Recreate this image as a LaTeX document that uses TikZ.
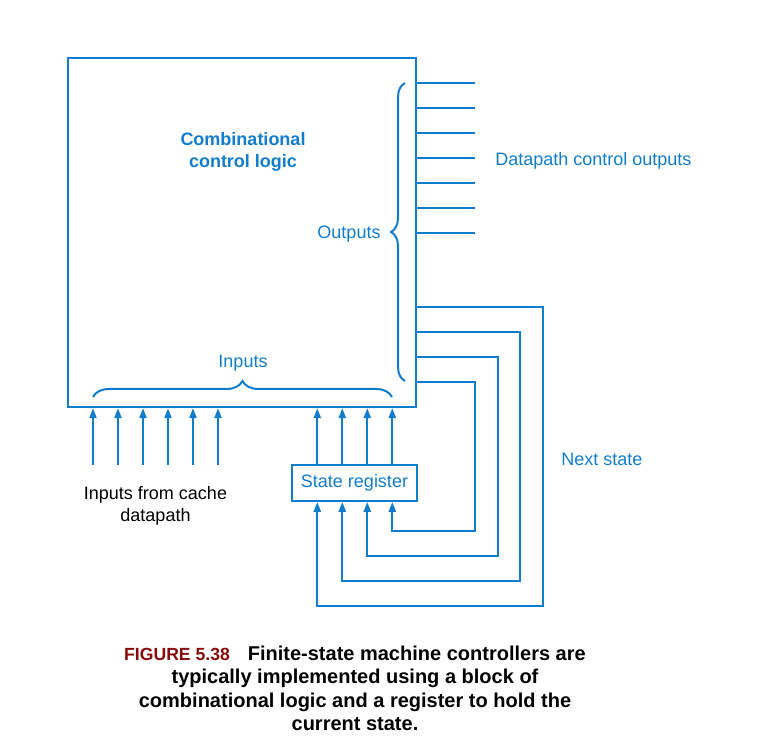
\documentclass[tikz,border=0pt]{standalone}
\usepackage{fontspec}
\setmainfont{Liberation Sans}
\usetikzlibrary{positioning, arrows.meta, decorations.pathreplacing, calc}
\definecolor{ctrlblue}{RGB}{18,125,204}
\definecolor{figred}{RGB}{135,12,12}

\begin{document}
\begin{tikzpicture}[x=0.5pt, y=-0.5pt,
    wire/.style={draw=ctrlblue, line width=1pt},
    arrow/.style={wire, -{Triangle[length=5pt, width=3.6pt]}},
    bracepath/.style={wire, decorate, decoration={brace, amplitude=#1}},
    lbl/.style={font=\fontsize{9}{11}\selectfont, text=ctrlblue, align=center, inner sep=0pt}
]
    \useasboundingbox (0,0) rectangle (757,737);

    % === BLOC LOGIQUE ===
    \node[wire, minimum width=174pt, minimum height=174.5pt, inner sep=0pt] (logic) at (242.3,232.7) {};
    \node[lbl, font=\fontsize{9}{11}\selectfont\bfseries] (logicname) at (243,151.5) {Combinational\\control logic};

    % === SORTIES ===
    \foreach \k in {0,...,6}
        \draw[wire] (logic.east |- 0,83.3+25*\k) -- (475,83.3+25*\k);
    \node[lbl, anchor=west] (dpout) at (495,160.5) {Datapath control outputs};
    \draw[bracepath=7pt] (405,381) -- (405,83);
    \node[lbl] (outlbl) at (349,234.5) {Outputs};

    % === ENTRÉES ===
    \draw[bracepath=8pt] (93,397) -- (392,397);
    \node[lbl] (inlbl) at (243,363.5) {Inputs};
    \foreach \k in {0,...,5}
        \draw[arrow] (93+25*\k,465) -- (93+25*\k,0 |- logic.south);
    \node[lbl, text=black] (cachein) at (155.5,506) {Inputs from cache\\datapath};

    % === REGISTRE D'ÉTAT ===
    \node[wire, lbl, minimum width=62.8pt, minimum height=18pt] (reg) at (354.5,483) {\raisebox{-1pt}{State register}};
    \foreach \k in {0,...,3}
        \draw[arrow] (317.3+25*\k,0 |- reg.north) -- (317.3+25*\k,0 |- logic.south);

    % === BOUCLES ÉTAT SUIVANT ===
    \draw[arrow] (logic.east |- 0,307.5) -- (542.5,307.5) -- (542.5,606) -- (317.3,606) -- (317.3,0 |- reg.south);
    \draw[arrow] (logic.east |- 0,332.5) -- (520,332.5) -- (520,581) -- (342.3,581) -- (342.3,0 |- reg.south);
    \draw[arrow] (logic.east |- 0,357.5) -- (497.5,357.5) -- (497.5,556) -- (367.3,556) -- (367.3,0 |- reg.south);
    \draw[arrow] (logic.east |- 0,382.5) -- (475,382.5) -- (475,531) -- (392.3,531) -- (392.3,0 |- reg.south);
    \node[lbl] (nextlbl) at (602,459) {Next state};

    % === LÉGENDE ===
    \node[align=center, font=\fontsize{10}{11.7}\selectfont\bfseries, inner sep=0pt] (caption) at (355,688.5) {
        {\color{figred}\fontsize{8.8}{11.7}\selectfont FIGURE 5.38}\hspace{9pt}Finite-state machine controllers are\\
        typically implemented using a block of\\
        combinational logic and a register to hold the\\
        current state.
    };

\end{tikzpicture}
\end{document}
